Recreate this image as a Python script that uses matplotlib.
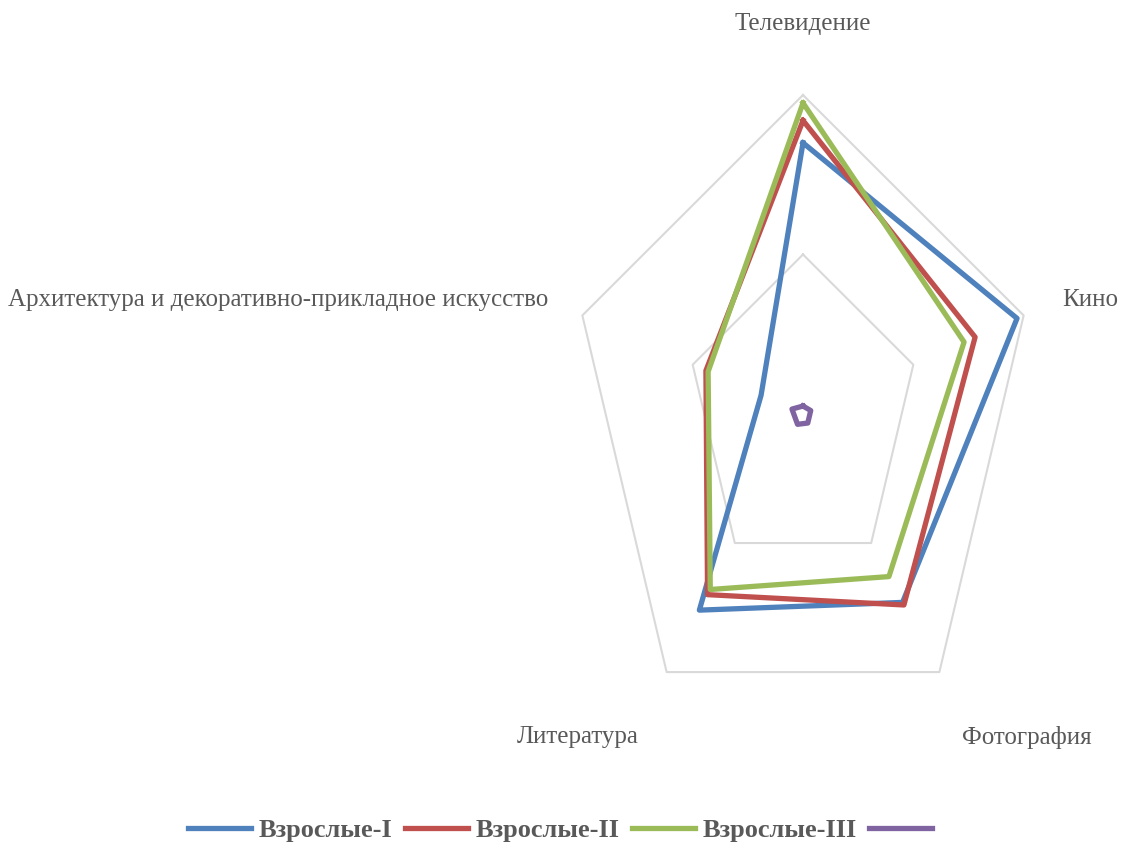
import numpy as np
import matplotlib
matplotlib.use("Agg")
import matplotlib.pyplot as plt
from matplotlib.lines import Line2D

categories = [
    "Телевидение",
    "Кино",
    "Фотография",
    "Литература",
    "Архитектура и декоративно-прикладное искусство",
]
series_names = ["Взрослые-I", "Взрослые-II", "Взрослые-III", ""]
vzr_1 = [0.85, 0.97, 0.73, 0.76, 0.19]
vzr_2 = [0.92, 0.78, 0.74, 0.70, 0.44]
vzr_3 = [0.975, 0.73, 0.63, 0.68, 0.43]
vzr_4 = [0.025, 0.035, 0.035, 0.04, 0.05]
grid_levels = [0.5, 1.0]

COLORS = ["#4F81BD", "#C0504D", "#9BBB59", "#8064A2"]
TEXT_COLOR = "#595959"
GRID_COLOR = "#D9D9D9"

plt.rcParams["font.family"] = ["Liberation Serif", "DejaVu Serif"]

# spokes go clockwise starting from the top
angles = np.deg2rad(np.arange(len(categories)) * 360.0 / len(categories))


def _to_xy(values):
    r = np.asarray(values, dtype=float)
    x = r * np.sin(angles)
    y = r * np.cos(angles)
    return np.append(x, x[0]), np.append(y, y[0])


fig = plt.figure(figsize=(11.28, 8.52), dpi=100)
# radar area: horizontal unit is narrower than vertical one
ax = fig.add_axes([571 / 1128, 119 / 852, 464 / 1128, 638 / 852])
ax.set_xlim(-1, 1)
ax.set_ylim(-1, 1)
ax.axis("off")

for lvl in grid_levels:
    gx, gy = _to_xy([lvl] * len(categories))
    ax.plot(gx, gy, color=GRID_COLOR, linewidth=1.5, clip_on=False, zorder=1)

for vals, name, col in zip([vzr_1, vzr_2, vzr_3, vzr_4], series_names, COLORS):
    sx, sy = _to_xy(vals)
    ax.plot(sx, sy, color=col, linewidth=3.8, solid_joinstyle="round",
            clip_on=False, zorder=3)

label_kw = dict(fontsize=18, color=TEXT_COLOR, va="center", clip_on=False)
ax.text(0, 1.222, categories[0], ha="center", **label_kw)
ax.text(1.116, 0.357, categories[1], ha="left", **label_kw)
ax.text(0.966, -1.013, categories[2], ha="center", **label_kw)
ax.text(-0.97, -1.013, categories[3], ha="center", **label_kw)
ax.text(-1.099, 0.357, categories[4], ha="right", **label_kw)

handles = [Line2D([], [], color=c, linewidth=3.8) for c in COLORS]
leg = fig.legend(
    handles, series_names,
    loc="center", bbox_to_anchor=(0.5, 22 / 852),
    ncol=4, frameon=False,
    prop={"size": 19, "weight": "bold"},
    handlelength=2.4, handletextpad=0.3, columnspacing=0.45,
)
for t in leg.get_texts():
    t.set_color(TEXT_COLOR)

fig.savefig("out.png", dpi=100)
